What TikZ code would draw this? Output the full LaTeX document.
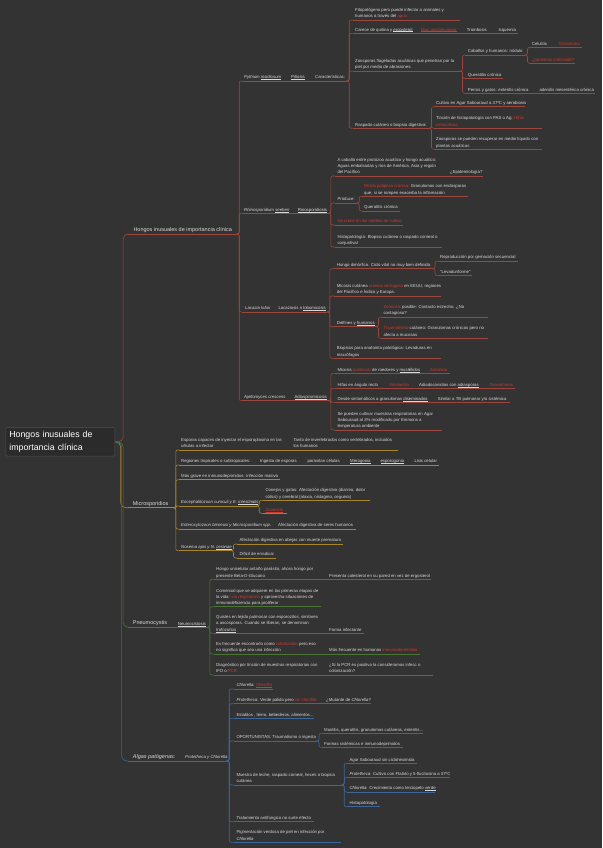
\documentclass[tikz,border=0pt]{standalone}
\usepackage{fontspec}
\setmainfont{Liberation Sans}
\definecolor{bg}{HTML}{333333}
\definecolor{fg}{HTML}{D8D8D8}
\definecolor{rtxt}{HTML}{D0392D}
\definecolor{cR}{HTML}{9C463D}
\definecolor{cY}{HTML}{A8842A}
\definecolor{cG}{HTML}{4A7534}
\definecolor{cB}{HTML}{3B6699}
\definecolor{mainbg}{HTML}{2B2B2B}
\definecolor{mainbd}{HTML}{505050}
\newcommand\rd[1]{\textcolor{rtxt}{#1}}
\newcommand\ulx[1]{\setbox0=\hbox{#1}\rlap{\rule[-0.7pt]{\wd0}{0.3pt}}\box0}
\newcommand\mlines[1]{\begin{tabular}[t]{@{}l@{}}#1\end{tabular}}
\newcommand\rowl[5]{\coordinate (#1s) at (#2,#4);\coordinate (#1e) at (#3,#4);\draw[ul,#5] (#1s) -- (#1e);}
\newcommand\cnx[3]{\draw[conn,#1] (#2e) -- ++(2.5,0) |- (#3s);}
\tikzset{
  tx/.style={anchor=base west,inner sep=0pt,text=fg,font=\fontsize{4.3}{6.2}\selectfont},
  bigtx/.style={anchor=base west,inner sep=0pt,text=fg,font=\fontsize{5.5}{7}\selectfont},
  ul/.style={line width=0.6pt},
  conn/.style={line width=0.6pt,rounded corners=2pt},
  mainbox/.style={draw=mainbd,fill=mainbg,rounded corners=1pt,line width=0.5pt,minimum height=28.3pt,inner xsep=3.5pt,inner ysep=0pt,text=white,font=\fontsize{8.8}{12.3}\selectfont,align=left,text width=102pt}
}
\begin{document}
\begin{tikzpicture}[x=1pt,y=-1pt]
\fill[bg] (0,0) rectangle (602,848);
\useasboundingbox (0,0) rectangle (602,848);

% main node
\node[mainbox] (main) at (60.35,441.85) {Hongos inusuales de\\importancia clínica};

% ===== RED branch =====
\rowl{r0}{128.3}{236.7}{234}{cR}
\node[bigtx] (r0) at (133.3,231.4) {Hongos inusuales de importancia clínica};

% Pythium
\rowl{p}{241.7}{346.7}{81}{cR}
\node[tx] (pa) at (244,78.8) {\textit{Pythium \ulx{insidiosum}}};
\node[tx] (pb) at (291,78.8) {\ulx{Pitiosis}};
\node[tx] (pc) at (315,78.8) {Características:};
\rowl{p1}{352.5}{460}{20}{cR}
\node[tx] (p1) at (355,11.6) {\mlines{Fitopatógeno pero puede infectar a animales y\\humanos a través del \rd{agua}}};
\rowl{p2}{352.5}{518}{33.3}{cR}
\node[tx] (p2a) at (355,31.1) {Carece de quitina y \ulx{ergosterol}};
\node[tx] (p2b) at (421,31.1) {\rd{\ulx{Muy angioinvasivo}}};
\node[tx] (p2c) at (466.7,31.1) {Trombosis};
\node[tx] (p2d) at (498.3,31.1) {Isquemia};
\rowl{p3}{352.5}{460}{71}{cR}
\node[tx] (p3) at (355,62.6) {\mlines{Zoosporas flageladas acuáticas que penetran por la\\piel por medio  de abrasiones:}};
\rowl{p3a}{465.2}{525}{55}{cR}
\node[tx] (p3a) at (467.7,52.8) {Caballos y humanos: nódulo};
\rowl{p3a1}{530}{581.7}{47.3}{cR}
\node[tx] (p3a1a) at (531.7,45.1) {Celulitis};
\node[tx] (p3a1b) at (558.3,45.1) {\rd{Granuloma}};
\rowl{p3a2}{530}{575}{63.3}{cR}
\node[tx] (p3a2) at (531.7,61.1) {\rd{¿ponemos corticoide?}};
\rowl{p3b}{465.2}{503}{78.3}{cR}
\node[tx] (p3b) at (467.7,76.1) {Queratitis crónica};
\rowl{p3c}{465.2}{595}{93.3}{cR}
\node[tx] (p3c1) at (467.7,91.1) {Perros y gatos: enteritis crónica};
\node[tx] (p3c2) at (539.3,91.1) {adenitis mesentérica crónica};
\rowl{p4}{352.5}{429}{128.3}{cR}
\node[tx] (p4) at (355,126.1) {Raspado cutáneo o biopsia digestiva:};
\rowl{p4a}{433.5}{525}{106.7}{cR}
\node[tx] (p4a) at (436,104.5) {Cultivo en Agar Sabouraud a 37ºC y aerobiosis};
\rowl{p4b}{433.5}{541.7}{128.3}{cR}
\node[tx] (p4b) at (436,119.9) {\mlines{Tinción de histopatología con PAS o Ag: \rd{Hifas}\\\rd{cenocíticas}}};
\rowl{p4c}{433.5}{541.7}{149.3}{cR}
\node[tx] (p4c) at (436,140.9) {\mlines{Zoosporas se pueden recuperar en medio líquido con\\plantas acuáticas}};

% Rhinosporidium
\rowl{rh}{241.7}{328.3}{213.3}{cR}
\node[tx] (rha) at (244,211.1) {\textit{Rhinosporidium \ulx{seeberi}}};
\node[tx] (rhb) at (297.7,211.1) {\ulx{Rinosporidiosis}};
\rowl{rh1}{334.8}{482.7}{176}{cR}
\node[tx] (rh1) at (337.3,161.4) {\mlines{A caballo entre protozoo acuático y hongo acuático:\\Aguas embalsadas y ríos de América, Asia y región\\del Pacífico}};
\node[tx] (rh1b) at (450,173.8) {¿Epidemiología?};
\rowl{rh2}{334.8}{356.7}{203}{cR}
\node[tx] (rh2) at (337.3,200.8) {Produce:};
\rowl{rh2a}{361.5}{468.3}{196.3}{cR}
\node[tx] (rh2a) at (364,187.9) {\mlines{\rd{Rinitis poliposa crónica:} Granulomas con endosporas\\que, si se rompen exacerba la inflamación}};
\rowl{rh2b}{361.5}{400}{211}{cR}
\node[tx] (rh2b) at (364,208.8) {Queratitis crónica};
\rowl{rh3}{334.8}{403.3}{225}{cR}
\node[tx] (rh3) at (337.3,222.8) {\rd{No crece en los medios de cultivo}};
\rowl{rh4}{334.8}{441.7}{247}{cR}
\node[tx] (rh4) at (337.3,238.6) {\mlines{Histopatología: Biopsia cutánea o raspado corneal o\\conjuntival}};

% Lacazia
\rowl{l}{241.7}{327.3}{312}{cR}
\node[tx] (la) at (245,309.8) {\textit{Lacazia loboi}};
\node[tx] (lb) at (278.3,309.8) {Lacaziosis o \ulx{lobomicosis}};
\rowl{l1}{334.2}{432.5}{268.7}{cR}
\node[tx] (l1) at (336.7,266.5) {Hongo dimórfico. Ciclo vital no muy bien definido.};
\rowl{l1a}{437.5}{517.7}{261}{cR}
\node[tx] (l1a) at (440,258.8) {Reproducción por gemación secuencial};
\rowl{l1b}{437.5}{471.7}{275.7}{cR}
\node[tx] (l1b) at (440,273.5) {"Levaduriforme"};
\rowl{l2}{334.2}{440.7}{296}{cR}
\node[tx] (l2) at (336.7,287.6) {\mlines{Micosis cutánea \rd{crónica verrugosa} en EEUU, regiones\\del Pacífico e Índico y Europa.}};
\rowl{l3}{334.2}{376}{326.7}{cR}
\node[tx] (l3) at (336.7,324.5) {Delfines y \ulx{humanos}};
\rowl{l3a}{380.8}{488.3}{317}{cR}
\node[tx] (l3a) at (383.3,308.6) {\mlines{\rd{Zoonosis} posible: Contacto estrecho. ¿No\\contagiosa?}};
\rowl{l3b}{380.8}{488.3}{338.3}{cR}
\node[tx] (l3b) at (383.3,329.9) {\mlines{\rd{Traumatismo} cutáneo: Granulomas crónicos pero no\\afecta a mucosas}};
\rowl{l4}{334.2}{440.7}{358.3}{cR}
\node[tx] (l4) at (336.7,349.9) {\mlines{Biopsias para anatomía patológica: Levaduras en\\macrófagos}};

% Ajellomyces
\rowl{a}{241.7}{328.3}{400.7}{cR}
\node[tx] (aa) at (244,398.5) {\textit{Ajellomyces crescens}};
\node[tx] (ab) at (294.3,398.5) {\ulx{Adiaspiromicosis}};
\rowl{a1}{334.8}{450}{373.3}{cR}
\node[tx] (a1a) at (337.3,371.1) {Micosis \rd{pulmonar} de roedores y \ulx{mustélidos}};
\node[tx] (a1b) at (430,371.1) {\rd{Anorexia}};
\rowl{a2}{334.8}{515}{388.3}{cR}
\node[tx] (a2a) at (337.3,386.1) {Hifas en ángulo recto};
\node[tx] (a2b) at (389.3,386.1) {\rd{Inhalación}};
\node[tx] (a2c) at (419,386.1) {Adiadoconidios con \ulx{adiasporas}};
\node[tx] (a2d) at (489.3,386.1) {\rd{Granulomas}};
\rowl{a3}{334.8}{510}{402.3}{cR}
\node[tx] (a3a) at (337.3,400.1) {Desde sintomáticos a granulomas \ulx{diseminados}};
\node[tx] (a3b) at (437.7,400.1) {Similar a TB pulmonar y/o sistémica};
\rowl{a4}{334.8}{441.7}{430}{cR}
\node[tx] (a4) at (337.3,415.4) {\mlines{Se pueden cultivar muestras respiratorias en Agar\\Sabouraud al 2\% modificado por Emmons a\\temperatura ambiente}};

% ===== YELLOW branch =====
\rowl{m0}{128.3}{173.3}{507.7}{cY}
\node[bigtx] (m0) at (132.7,505.1) {Microsporidios};
\rowl{m1}{178.5}{398.3}{450}{cY}
\node[tx] (m1a) at (181,441.6) {\mlines{Esporas capaces de inyectar el esporoplasma en las\\células a infectar}};
\node[tx] (m1b) at (293.3,441.6) {\mlines{Tanto de invertebrados como vertebrados, incluidos\\los humanos}};
\rowl{m2}{178.5}{439.3}{465}{cY}
\node[tx] (m2a) at (181,462.8) {Regiones tropicales o subtropicales:};
\node[tx] (m2b) at (260,462.8) {Ingesta de esporas};
\node[tx] (m2c) at (307.3,462.8) {parasitan células};
\node[tx] (m2d) at (350,462.8) {\ulx{Merogonia}};
\node[tx] (m2e) at (380.3,462.8) {\ulx{esporogonia}};
\node[tx] (m2f) at (414.3,462.8) {Lisis celular};
\rowl{m3}{178.5}{280}{479.7}{cY}
\node[tx] (m3) at (181,477.5) {Más grave en inmunodeprimidos: infección masiva};
\rowl{m4}{178.5}{256.7}{506}{cY}
\node[tx] (m4) at (181,503.8) {\textit{Encephalitozoon cuniculi y E. \ulx{intestinalis}}};
\rowl{m4a}{262.8}{370}{500.3}{cY}
\node[tx] (m4a) at (265.3,491.9) {\mlines{Conejos y gatos: Afectación digestiva (diarrea, dolor\\cólico) y cerebral (ataxia, nistagmo, ceguera)}};
\rowl{m4b}{262.8}{286.7}{513.3}{cY}
\node[tx] (m4b) at (265.3,511.1) {\rd{\ulx{Zoonosis}}};
\rowl{m5}{178.5}{355.7}{529}{cY}
\node[tx] (m5a) at (181,526.8) {\textit{Enterocytozoon bieneusi y Microsporidium spp.}};
\node[tx] (m5b) at (278,526.8) {Afectación digestiva de seres humanos};
\rowl{m6}{178.5}{231}{550.7}{cY}
\node[tx] (m6) at (181,548.5) {\textit{Nosema apis y N. \ulx{ceranae}}};
\rowl{m6a}{236.8}{343.3}{544}{cY}
\node[tx] (m6a) at (239.3,541.8) {Afectación digestiva en abejas con muerte prematura};
\rowl{m6b}{236.8}{276}{558}{cY}
\node[tx] (m6b) at (239.3,555.8) {Difícil de erradicar};

% ===== GREEN branch =====
\rowl{n0}{128.3}{207.3}{627.3}{cG}
\node[bigtx] (n0a) at (132.7,624.7) {Pneumocystis};
\node[tx] (n0b) at (177.7,625.1) {\ulx{Neumocistosis}};
\rowl{n1}{213.5}{430.7}{579.3}{cG}
\node[tx] (n1a) at (216,570.9) {\mlines{Hongo unicelular antaño parásito, ahora hongo por\\presente Beta-D-Glucano}};
\node[tx] (n1b) at (329,577.1) {Presenta colesterol en su pared en vez de ergosterol};
\rowl{n2}{213.5}{321}{606.7}{cG}
\node[tx] (n2) at (216,592.1) {\mlines{Comensal que se adquiere en las primeras etapas de\\la vida: \rd{vía respiratoria} y aprovecha situaciones de\\inmunodeficiencia para proliferar}};
\rowl{n3}{213.5}{364.3}{633.3}{cG}
\node[tx] (n3a) at (216,618.7) {\mlines{Quistes en tejido pulmonar con esporozitos, similares\\a ascosporas. Cuando se liberan, se denominan\\\ulx{trofozoítos}}};
\node[tx] (n3b) at (329,631.1) {Forma infectante};
\rowl{n4}{213.5}{420}{654}{cG}
\node[tx] (n4a) at (216,645.6) {\mlines{Es frecuente encontrarlo como \rd{colonizador} pero eso\\no significa que sea una infección}};
\node[tx] (n4b) at (329,651.8) {Más frecuente en humanos \rd{inmunodeprimidos}};
\rowl{n5}{213.5}{433.3}{675}{cG}
\node[tx] (n5a) at (216,666.6) {\mlines{Diagnóstico por tinción de muestras respiratorias con\\IFD o \rd{PCR}}};
\node[tx] (n5b) at (329,666.6) {\mlines{¿Si la PCR es positiva la consideramos infecc o\\colonización?}};

% ===== BLUE branch =====
\rowl{g0}{128.3}{226.7}{761}{cB}
\node[bigtx] (g0a) at (132.7,758.4) {\textit{Algas patógenas:}};
\node[tx] (g0b) at (185,758.8) {\textit{Protetheca y Chlorella}};
\rowl{g1}{233.8}{272.7}{689}{cB}
\node[tx] (g1) at (236.3,686.8) {\textit{Chlorella}: \rd{\ulx{Clorofila}}};
\rowl{g2}{233.8}{370.7}{703.7}{cB}
\node[tx] (g2a) at (236.3,701.5) {\textit{Protetheca}: Verde pálido pero \rd{sin clorofila}};
\node[tx] (g2b) at (326,701.5) {¿Mutante de \textit{Chlorella}?};
\rowl{g3}{233.8}{314}{718.3}{cB}
\node[tx] (g3) at (236.3,716.1) {Establos , tierra, bebederos, alimentos...};
\rowl{g4}{233.8}{316.5}{741}{cB}
\node[tx] (g4) at (236.3,738.8) {OPORTUNISTAS: Traumatismo o ingesta};
\rowl{g4a}{321.5}{423.3}{733.3}{cB}
\node[tx] (g4a) at (324,731.1) {Mastitis, queratitis, granulomas cutáneos, enteritis...};
\rowl{g4b}{321.5}{403.3}{747.3}{cB}
\node[tx] (g4b) at (324,745.1) {Formas sistémicas e inmunodeprimidos};
\rowl{g5}{233.8}{341.7}{785}{cB}
\node[tx] (g5) at (236.3,776.6) {\mlines{Muestra de leche, raspado corneal, heces o biopsia\\cutánea}};
\rowl{g5a}{346.8}{416.7}{763.3}{cB}
\node[tx] (g5a) at (349.3,761.1) {Agar Sabouraud sin cicloheximida};
\rowl{g5b}{346.8}{450}{777.3}{cB}
\node[tx] (g5b) at (349.3,775.1) {\textit{Protetheca}: Cultivo con Ftalato y 5-flucitosina a 37ºC};
\rowl{g5c}{346.8}{435}{792}{cB}
\node[tx] (g5c) at (349.3,789.8) {\textit{Chlorella}: Crecimiento como terciopelo \ulx{verde}};
\rowl{g5d}{346.8}{380}{806.7}{cB}
\node[tx] (g5d) at (349.3,804.5) {Histopatología};
\rowl{g6}{233.8}{314}{821.7}{cB}
\node[tx] (g6) at (236.3,819.5) {Tratamiento antifúngico no surte efecto};
\rowl{g7}{233.8}{341}{842.3}{cB}
\node[tx] (g7) at (236.3,833.9) {\mlines{Pigmentación verdosa de piel en infección por\\\textit{Chlorella}}};

% ===== connectors =====
\draw[conn,cR,rounded corners=5pt] (main.east) -- ++(8,0) |- (r0s);
\draw[conn,cY,rounded corners=5pt] (main.east) -- ++(5.5,0) |- (m0s);
\draw[conn,cB,rounded corners=5pt] (main.east) -- ++(6.5,0) |- (g0s);
\draw[conn,cG,rounded corners=5pt] (main.east) -- ++(8,0) |- (n0s);

\cnx{cR}{r0}{p}\cnx{cR}{r0}{rh}\cnx{cR}{r0}{l}\cnx{cR}{r0}{a}
\cnx{cR}{p}{p1}\cnx{cR}{p}{p2}\cnx{cR}{p}{p3}\cnx{cR}{p}{p4}
\cnx{cR}{p3}{p3a}\cnx{cR}{p3}{p3b}\cnx{cR}{p3}{p3c}
\cnx{cR}{p3a}{p3a1}\cnx{cR}{p3a}{p3a2}
\cnx{cR}{p4}{p4a}\cnx{cR}{p4}{p4b}\cnx{cR}{p4}{p4c}
\cnx{cR}{rh}{rh1}\cnx{cR}{rh}{rh2}\cnx{cR}{rh}{rh3}\cnx{cR}{rh}{rh4}
\cnx{cR}{rh2}{rh2a}\cnx{cR}{rh2}{rh2b}
\cnx{cR}{l}{l1}\cnx{cR}{l}{l2}\cnx{cR}{l}{l3}\cnx{cR}{l}{l4}
\cnx{cR}{l1}{l1a}\cnx{cR}{l1}{l1b}
\cnx{cR}{l3}{l3a}\cnx{cR}{l3}{l3b}
\cnx{cR}{a}{a1}\cnx{cR}{a}{a2}\cnx{cR}{a}{a3}\cnx{cR}{a}{a4}

\cnx{cY}{m0}{m1}\cnx{cY}{m0}{m2}\cnx{cY}{m0}{m3}\cnx{cY}{m0}{m4}\cnx{cY}{m0}{m5}\cnx{cY}{m0}{m6}
\cnx{cY}{m4}{m4a}\cnx{cY}{m4}{m4b}
\cnx{cY}{m6}{m6a}\cnx{cY}{m6}{m6b}

\cnx{cG}{n0}{n1}\cnx{cG}{n0}{n2}\cnx{cG}{n0}{n3}\cnx{cG}{n0}{n4}\cnx{cG}{n0}{n5}

\cnx{cB}{g0}{g1}\cnx{cB}{g0}{g2}\cnx{cB}{g0}{g3}\cnx{cB}{g0}{g4}\cnx{cB}{g0}{g5}\cnx{cB}{g0}{g6}\cnx{cB}{g0}{g7}
\cnx{cB}{g4}{g4a}\cnx{cB}{g4}{g4b}
\cnx{cB}{g5}{g5a}\cnx{cB}{g5}{g5b}\cnx{cB}{g5}{g5c}\cnx{cB}{g5}{g5d}
\end{tikzpicture}
\end{document}
